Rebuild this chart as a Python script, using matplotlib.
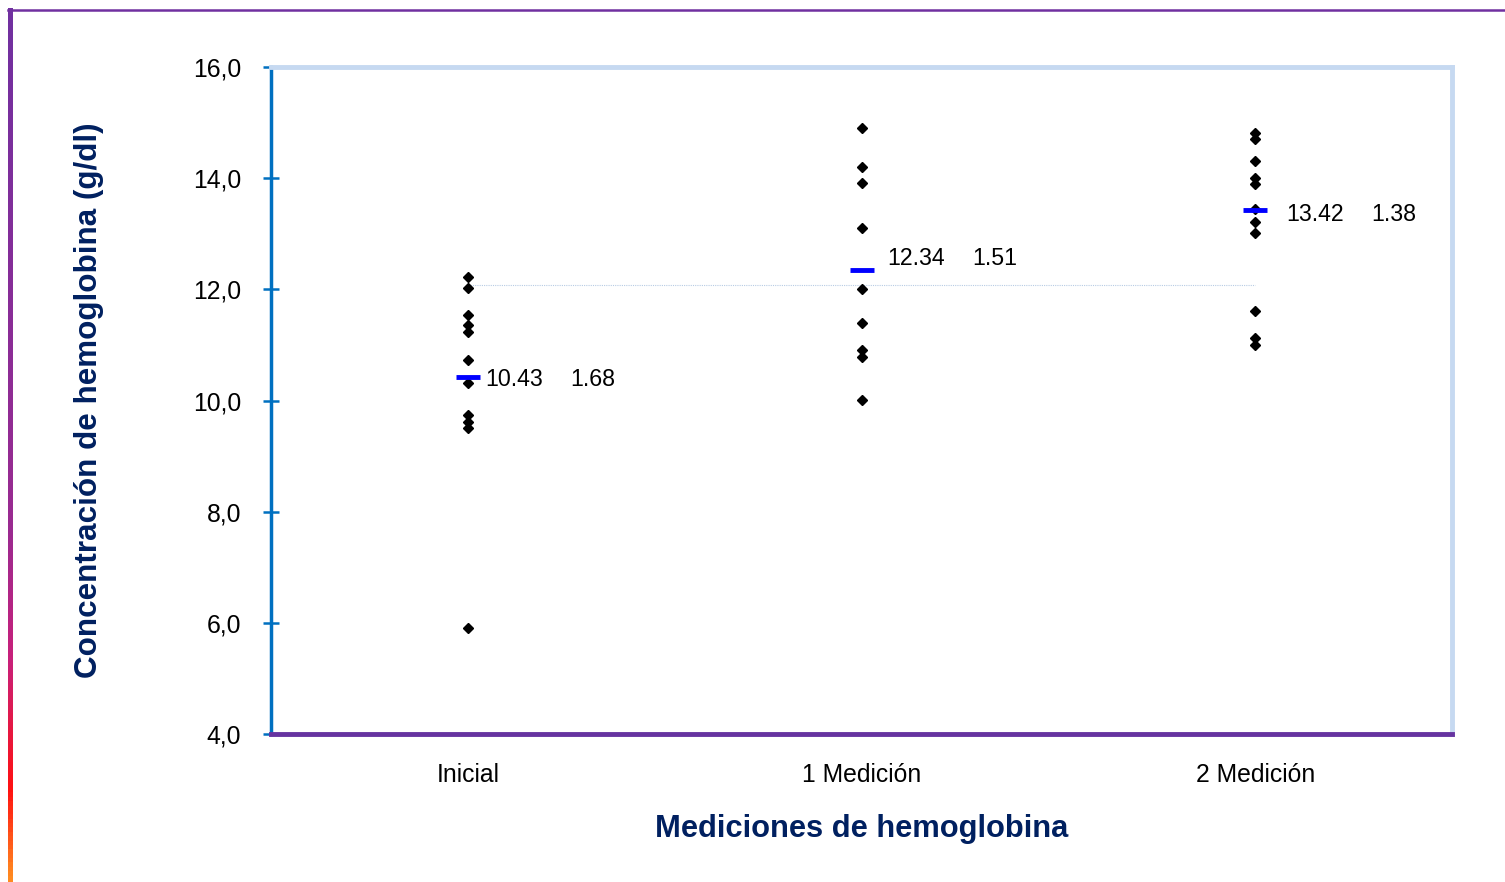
import numpy as np
import matplotlib
matplotlib.use('Agg')
from matplotlib import pyplot as plt
from matplotlib import ticker
from matplotlib.collections import LineCollection
from matplotlib.colors import LinearSegmentedColormap

plt.rcParams['font.family'] = ['Liberation Sans', 'DejaVu Sans']

categories = ['Inicial', '1 Medición', '2 Medición']
inicial = [12.22, 12.02, 11.54, 11.36, 11.23, 10.73, 10.32, 9.74, 9.61, 9.51, 5.91]
medicion1 = [14.90, 14.20, 13.91, 13.10, 12.01, 11.39, 10.91, 10.78, 10.01]
medicion2 = [14.81, 14.71, 14.31, 14.00, 13.90, 13.45, 13.21, 13.01, 11.61, 11.12, 11.00]
means = [10.43, 12.34, 13.42]
sds = [1.68, 1.51, 1.38]
ref_level = 12.08

navy = '#002060'
fig = plt.figure(figsize=(15.05, 8.82), dpi=100)
ax = fig.add_axes([271 / 1505, 1 - 734 / 882, (1452 - 271) / 1505, (734 - 67) / 882])

# faint reference line
ax.plot([1, 3], [ref_level, ref_level], color='#B8CCE4', lw=0.8, ls=(0, (1, 1)), zorder=1)

for i, vals in enumerate([inicial, medicion1, medicion2]):
    ax.plot(np.full(len(vals), i + 1), vals, 'D', color='black', ms=5.5, zorder=3, ls='none')

ax.plot(np.arange(1, 4), means, '_', color='#0000FF', ms=17, mew=3.5, zorder=4, ls='none')

# data labels: mean and sd
lbl_dx = [0.045, 0.065, 0.08]
lbl_dy = [-0.06, 0.22, -0.08]
for i, (m, s) in enumerate(zip(means, sds)):
    ax.text(i + 1 + lbl_dx[i], m + lbl_dy[i], f'{m:.2f}', fontsize=16.7, va='center', ha='left')
    ax.text(i + 1 + lbl_dx[i] + 0.216, m + lbl_dy[i], f'{s:.2f}', fontsize=16.7, va='center', ha='left')

ax.set_xlim(0.5, 3.5)
ax.set_ylim(4, 16)
ax.xaxis.set_major_locator(ticker.FixedLocator([1, 2, 3]))
ax.xaxis.set_major_formatter(ticker.FixedFormatter(categories))
ax.yaxis.set_major_locator(ticker.MultipleLocator(2))
ax.yaxis.set_major_formatter(ticker.FuncFormatter(lambda v, p: f'{v:.1f}'.replace('.', ',')))
ax.tick_params(axis='x', length=0, pad=21, labelsize=17.8)
ax.tick_params(axis='y', direction='inout', length=11, width=1.8, color='#0070C0',
               pad=16, labelsize=17.8)

ax.spines['left'].set_color('#0070C0')
ax.spines['left'].set_linewidth(2.5)
ax.spines['top'].set_color('#C6D9F1')
ax.spines['top'].set_linewidth(3.5)
ax.spines['right'].set_color('#C6D9F1')
ax.spines['right'].set_linewidth(3.5)
ax.spines['bottom'].set_color('#6633A0')
ax.spines['bottom'].set_linewidth(3.5)
ax.spines['bottom'].set_zorder(5)

ax.set_xlabel('Mediciones de hemoglobina', fontsize=22.2, fontweight='bold', color=navy, labelpad=19)
ax.set_ylabel('Concentración de hemoglobina (g/dl)', fontsize=22.6, fontweight='bold',
              color=navy, labelpad=64)

# outer frame lines
fig.add_artist(plt.Line2D([8 / 1505, 1], [1 - 10 / 882] * 2, transform=fig.transFigure,
                          color='#7030A0', lw=1.8))
ys = np.linspace(1 - 10 / 882, 0, 200)
pts = np.array([np.full_like(ys, 10 / 1505), ys]).T.reshape(-1, 1, 2)
segs = np.concatenate([pts[:-1], pts[1:]], axis=1)
cmap = LinearSegmentedColormap.from_list('edge', [(0, '#7030A0'), (0.6, '#9A2A90'),
                                                  (0.75, '#C8207A'), (0.9, '#FF1010'),
                                                  (1, '#FF8A20')])
lc = LineCollection(segs, cmap=cmap, transform=fig.transFigure, lw=2.2,
                    capstyle='projecting', antialiased=False)
lc.set_array(np.linspace(0, 1, len(segs)))
fig.add_artist(lc)

fig.savefig('out.png', dpi=100)
print('Saved out.png')
